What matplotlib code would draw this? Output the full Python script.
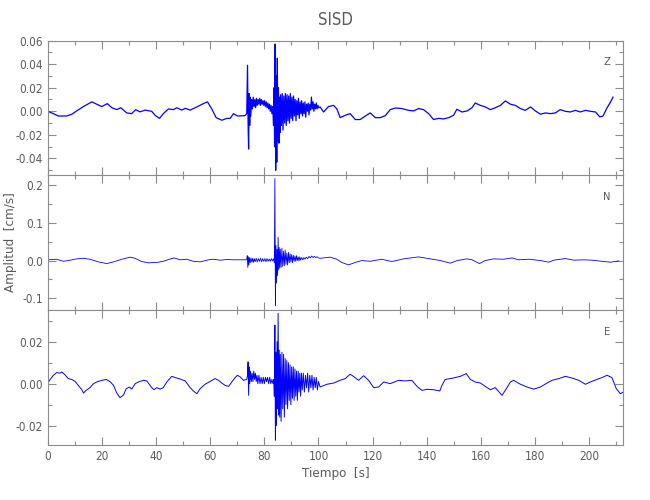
import numpy as np
import matplotlib
matplotlib.use("Agg")
import matplotlib.pyplot as plt
from matplotlib.ticker import MultipleLocator, FormatStrFormatter

plt.rcParams['font.family'] = ['DejaVu Sans']
plt.rcParams['font.stretch'] = 'condensed'
plt.rcParams['axes.unicode_minus'] = True

# ---------------- datos (tiempo [s], amplitud [cm/s]) ----------------
# componente Z
z_t_pre = [0, 2.1, 3.9, 7.0, 8.9, 10.7, 13.2, 16.3, 18.1, 20, 22, 23.7, 25.5, 27, 29.2, 31,
           32.5, 34.1, 36, 38.4, 39.7, 41.3, 42.7, 44.6, 46.4, 47.7, 49.5, 50.8, 52.6, 55.1,
           57.5, 59, 60.6, 62.2, 64.3, 66.2, 67.4, 68.6, 70.1, 72.9]
z_pre = [0.000, -0.002, -0.004, -0.004, -0.0025, 0.0003, 0.004, 0.008, 0.006, 0.004, 0.0065,
         0.003, 0.0014, 0.003, -0.0014, -0.002, 0.0014, -0.0005, 0.001, 0.000, -0.0035, -0.006,
         -0.002, 0.002, 0.0014, 0.003, 0.001, 0.0025, 0.001, 0.0037, 0.0065, 0.008, 0.002,
         -0.0054, -0.0076, -0.006, -0.006, -0.002, -0.004, -0.0037]
z_t_burst = [73.5, 73.8, 74.0, 74.2, 74.4, 74.6, 74.8, 75.0, 75.3, 75.6, 75.9, 76.2, 76.5, 76.8,
             77.1, 77.4, 77.7, 78.0, 78.3, 78.6, 78.9, 79.2, 79.5, 79.8, 80.1, 80.4, 80.7, 81.0,
             81.3, 81.6, 81.9, 82.2, 82.5, 82.8, 83.1, 83.4, 83.6, 83.8, 84.0, 84.2, 84.4, 84.6,
             84.8, 85.0, 85.2, 85.4, 85.6, 85.8, 86.0, 86.3, 86.6, 86.9, 87.2, 87.5, 87.8, 88.1,
             88.4, 88.7, 89.0, 89.3, 89.6, 89.9, 90.2, 90.5, 90.8, 91.1, 91.4, 91.7, 92.0, 92.3,
             92.6, 92.9, 93.2, 93.5, 93.8, 94.1, 94.4, 94.7, 95.0, 95.3, 95.6, 95.9, 96.2, 96.5,
             96.8, 97.1, 97.4, 97.7, 98.0, 98.3, 98.6, 98.9, 99.2, 99.5, 99.8, 100.1]
z_burst = [-0.002, 0.039, -0.010, -0.032, 0.015, -0.012, 0.012, -0.004, 0.010, 0.002, 0.012,
           0.004, 0.010, 0.003, 0.011, 0.005, 0.010, 0.006, 0.011, 0.005, 0.010, 0.006, 0.009,
           0.005, 0.009, 0.004, 0.008, 0.003, 0.007, 0.002, 0.006, 0.000, 0.005, -0.002, 0.004,
           -0.012, 0.020, -0.030, 0.057, -0.050, 0.030, -0.043, 0.045, -0.025, 0.020, -0.027,
           0.012, -0.018, 0.014, -0.012, 0.015, -0.016, 0.013, -0.010, 0.015, -0.012, 0.014,
           -0.008, 0.013, -0.010, 0.015, -0.006, 0.012, -0.008, 0.013, -0.004, 0.010, -0.008,
           0.009, -0.003, 0.011, -0.006, 0.008, -0.002, 0.009, -0.004, 0.007, -0.002, 0.008,
           -0.005, 0.006, 0.000, 0.007, -0.003, 0.006, 0.001, 0.012, 0.002, 0.008, 0.000, 0.006,
           0.002, 0.007, 0.002, 0.005, 0.003]
z_t_post = [100.6, 101.9, 103.7, 105.6, 106.8, 108, 109.9, 111.7, 113.6, 115.4, 117.3, 119.1,
            121, 122.8, 124.7, 126.5, 128.4, 130.8, 133.3, 135.1, 137, 138.8, 140.7, 142.5,
            144.4, 146.2, 148.1, 149.9, 151.1, 153, 154.9, 156.7, 157.9, 159.8, 161.6, 163.5,
            165.3, 167.2, 169, 170.9, 172.7, 174.6, 176.4, 178.3, 180.1, 182, 183.8, 185.7,
            187.5, 189.3, 191.2, 193, 194.9, 196.7, 198.6, 200.4, 202.3, 203.9, 205.1, 206.6,
            207.9, 208.8]
z_post = [0.0037, -0.0006, 0.004, 0.005, 0.002, -0.0054, -0.0034, -0.002, -0.007, -0.007,
          -0.004, -0.0014, -0.0054, -0.0054, -0.0037, 0.0014, 0.0028, 0.0023, 0.0008, 0.0003,
          0.0023, 0.0014, -0.002, -0.007, -0.006, -0.0065, -0.0054, -0.0034, 0.0017, -0.0006,
          0.0003, 0.003, 0.007, 0.005, 0.0037, 0.0014, 0.003, 0.005, 0.0088, 0.006, 0.005,
          0.0023, 0.0008, 0.0037, 0.0003, -0.0025, -0.0014, -0.002, -0.0014, 0.0014, 0.000,
          -0.0006, 0.0008, -0.0006, 0.0008, 0.000, -0.0006, -0.0048, -0.004, 0.003, 0.008, 0.012]

# componente N
n_t_pre = [0, 3.3, 5.8, 7.6, 10.7, 13.2, 15.6, 18.7, 21.8, 24.3, 27.4, 30.4, 32.3, 34.7, 37.2,
           40.3, 42.7, 44.6, 46.7, 48.9, 51.4, 53.8, 56.3, 59.4, 61.2, 63.7, 66.2, 68.6, 71.1]
n_pre = [0.002, 0.0035, -0.002, 0.000, 0.0045, 0.006, 0.0035, -0.0035, -0.008, -0.0035, 0.0035,
         0.009, 0.006, -0.0027, -0.006, -0.005, -0.002, 0.0027, 0.007, 0.002, 0.0035, -0.002,
         -0.0035, 0.002, 0.0035, 0.001, 0.0027, 0.002, 0.002]
n_t_burst = [73.5, 73.7, 73.9, 74.1, 74.3, 74.5, 74.8, 75.1, 75.4, 75.7, 76.0, 76.3, 76.6, 77.0,
             77.4, 77.8, 78.2, 78.6, 79.0, 79.4, 79.8, 80.2, 80.6, 81.0, 81.4, 81.8, 82.2, 82.6,
             83.0, 83.4, 83.7, 83.9, 84.1, 84.3, 84.5, 84.7, 84.9, 85.1, 85.3, 85.5, 85.7, 85.9,
             86.2, 86.5, 86.8, 87.1, 87.4, 87.7, 88.0, 88.3, 88.6, 88.9, 89.2, 89.5, 89.8, 90.1,
             90.4, 90.7, 91.0, 91.3, 91.6, 91.9, 92.2, 92.5, 92.8, 93.1, 93.4, 93.8, 94.2, 94.6,
             95.0, 95.5, 96.0, 96.5, 97.0, 97.5, 98.0, 98.5, 99.0, 99.5, 100.0]
n_burst = [0.002, 0.013, -0.018, 0.010, -0.012, 0.008, -0.006, 0.007, -0.004, 0.006, -0.005,
           0.005, -0.003, 0.006, -0.004, 0.005, -0.002, 0.006, -0.003, 0.005, -0.002, 0.005,
           -0.003, 0.005, -0.002, 0.004, -0.002, 0.005, -0.001, 0.005, -0.006, 0.218, -0.120,
           0.040, -0.060, 0.030, -0.040, 0.062, -0.025, 0.035, -0.020, 0.030, -0.018, 0.033,
           -0.016, 0.025, -0.014, 0.028, -0.010, 0.020, -0.012, 0.022, -0.006, 0.018, -0.004,
           0.016, -0.006, 0.014, -0.002, 0.012, -0.002, 0.013, 0.000, 0.010, -0.001, 0.010,
           0.001, 0.008, 0.002, 0.008, 0.004, 0.009, 0.005, 0.011, 0.007, 0.012, 0.008, 0.011,
           0.008, 0.010, 0.007]
n_t_post = [100.6, 104.3, 106.8, 108.6, 111.1, 113.6, 116, 119.1, 123.4, 127.1, 131.4, 137,
            141.3, 145, 148.7, 151.2, 154.9, 156.7, 159.5, 161.6, 164.7, 168.4, 171.5, 173.9,
            177.7, 182, 185, 186.9, 191.2, 194.3, 197.9, 201, 204.7, 207.8, 210.9]
n_post = [0.006, 0.009, 0.0035, -0.005, -0.0115, -0.005, 0.000, -0.002, 0.0035, -0.0027, 0.0045,
          0.0097, 0.0045, 0.000, -0.007, 0.000, 0.0045, 0.002, -0.008, 0.000, 0.0045, 0.0035,
          0.007, 0.002, 0.0035, 0.000, -0.0044, 0.001, 0.0053, 0.001, 0.002, 0.001, -0.002,
          -0.0044, -0.001]

# componente E
e_t_pre = [0, 0.9, 2.1, 3.3, 4.6, 5.2, 6.4, 7.6, 8.9, 10.1, 11.3, 12.6, 13.2, 14.2, 15.6, 16.9,
           18.1, 20, 21.6, 23, 24.3, 25.5, 26.7, 28, 29, 30.2, 31, 32.3, 33.5, 35.4, 36.6, 38.4,
           39.3, 40.3, 41.5, 42.7, 44, 45.8, 47.1, 48.9, 50.8, 52.6, 53.8, 55.1, 56.3, 58.1, 60,
           61.8, 63.1, 64.3, 65.5, 66.8, 68, 69.2, 70.1, 71.1, 72.3]
e_pre = [0.000, 0.002, 0.004, 0.0053, 0.005, 0.0056, 0.0042, 0.0024, 0.002, 0.0011, -0.0008,
         -0.0029, -0.0045, -0.0032, -0.0019, 0.000, 0.0008, 0.0016, 0.002, 0.001, -0.0008,
         -0.0045, -0.0067, -0.0054, -0.0024, -0.0016, -0.0026, 0.000, 0.0008, 0.0016, 0.0013,
         -0.0019, -0.0029, -0.0019, -0.0026, -0.0019, 0.0008, 0.0035, 0.0029, 0.0022, 0.0013,
         -0.0019, -0.0035, -0.0048, -0.0024, -0.0003, 0.0011, 0.0024, 0.0016, 0.0003, -0.0008,
         -0.0013, 0.0008, 0.0029, 0.004, 0.0032, 0.0016]
e_t_burst = [73.5, 73.8, 74.0, 74.2, 74.4, 74.6, 74.9, 75.2, 75.5, 75.8, 76.1, 76.4, 76.7, 77.0,
             77.3, 77.6, 78.0, 78.4, 78.8, 79.2, 79.6, 80.0, 80.4, 80.8, 81.2, 81.6, 82.0, 82.4,
             82.8, 83.2, 83.5, 83.7, 83.9, 84.1, 84.3, 84.5, 84.7, 84.9, 85.1, 85.3, 85.5, 85.7,
             85.9, 86.2, 86.5, 86.8, 87.1, 87.4, 87.7, 88.0, 88.3, 88.6, 88.9, 89.2, 89.5, 89.8,
             90.1, 90.4, 90.7, 91.0, 91.3, 91.6, 91.9, 92.2, 92.5, 92.8, 93.1, 93.4, 93.7, 94.0,
             94.4, 94.8, 95.2, 95.6, 96.0, 96.4, 96.8, 97.2, 97.6, 98.0, 98.4, 98.8, 99.2, 99.6,
             100.0]
e_burst = [0.002, 0.004, 0.0104, -0.0056, 0.008, 0.000, 0.006, 0.001, 0.005, 0.001, 0.006,
           0.002, 0.005, 0.001, 0.004, 0.000, 0.004, 0.000, 0.003, 0.000, 0.003, 0.000, 0.003,
           0.001, 0.003, 0.000, 0.003, 0.000, 0.002, 0.000, 0.002, -0.006, 0.028, -0.027, 0.015,
           -0.020, 0.020, -0.012, 0.0336, -0.015, 0.016, -0.016, 0.014, -0.018, 0.015, -0.012,
           0.014, -0.016, 0.012, -0.010, 0.011, -0.012, 0.010, -0.008, 0.009, -0.010, 0.008,
           -0.007, 0.008, -0.008, 0.007, -0.006, 0.006, -0.008, 0.006, -0.004, 0.005, -0.006,
           0.005, -0.003, 0.005, -0.004, 0.004, -0.002, 0.005, -0.004, 0.004, -0.002, 0.004,
           -0.003, 0.003, -0.002, 0.003, -0.003, 0.001]
e_t_post = [100.6, 103.1, 105.6, 108, 109.9, 111.7, 112.9, 114.8, 116.7, 118.5, 120.4, 122.2,
            124.1, 126.5, 129.6, 132, 134.5, 136.4, 138.2, 140.1, 142.5, 144.8, 145.6, 146.8,
            148.7, 150.5, 152.4, 154.6, 156.1, 157.9, 159.8, 161.6, 163.5, 165.3, 167.8, 169,
            170.9, 172.1, 174.6, 177, 179.5, 182, 184.4, 186.3, 188.7, 191.2, 193.6, 196.1,
            198.6, 200.4, 202.9, 204.7, 206.6, 208.4, 210, 211.5, 212.6]
e_post = [-0.0016, -0.0003, 0.0003, 0.0016, 0.0024, 0.0045, 0.0035, 0.0016, 0.0038, 0.0016,
          -0.0019, -0.0016, 0.0008, 0.000, 0.0016, 0.0013, 0.0016, -0.0013, -0.0032, -0.0027,
          -0.0029, -0.0035, -0.0008, 0.002, 0.0024, 0.0029, 0.0035, 0.0048, 0.002, 0.0008,
          0.0003, -0.0013, -0.0029, -0.0019, -0.0056, -0.0032, 0.0008, 0.0016, -0.0003, -0.0016,
          -0.0026, -0.0016, 0.0003, 0.0016, 0.0024, 0.0035, 0.0027, 0.0016, -0.0003, 0.0008,
          0.002, 0.0029, 0.004, 0.0029, -0.0024, -0.0048, -0.004]

componentes = ['Z', 'N', 'E']
series = [
    (z_t_pre + z_t_burst + z_t_post, z_pre + z_burst + z_post),
    (n_t_pre + n_t_burst + n_t_post, n_pre + n_burst + n_post),
    (e_t_pre + e_t_burst + e_t_post, e_pre + e_burst + e_post),
]
ylims = [(-0.0543, 0.06), (-0.132, 0.2267), (-0.0293, 0.0351)]
ymajor = [0.02, 0.1, 0.02]
yminor = [0.01, 0.05, 0.01]
yfmt = ['%.2f', '%.1f', '%.2f']
grosor = [0.9, 0.6, 0.7]

gris = '#8c8c8c'
texto = '#5a5a5a'

fig, axs = plt.subplots(3, 1, sharex=True, figsize=(6.5, 5), dpi=100)
fig.subplots_adjust(left=0.0734, right=0.959, bottom=0.11, top=0.919, hspace=0)

for k, ax in enumerate(axs):
    t, v = series[k]
    ax.plot(t, v, color='#0000ff', lw=grosor[k])
    ax.set_xlim(0, 212.6)
    ax.set_ylim(*ylims[k])
    ax.yaxis.set_major_locator(MultipleLocator(ymajor[k]))
    ax.yaxis.set_minor_locator(MultipleLocator(yminor[k]))
    ax.yaxis.set_major_formatter(FormatStrFormatter(yfmt[k]))
    if k < 2:
        ax.xaxis.set_major_locator(MultipleLocator(10))
    else:
        ax.xaxis.set_major_locator(MultipleLocator(20))
        ax.xaxis.set_minor_locator(MultipleLocator(10))
    ax.tick_params(which='both', direction='in', top=True, right=True,
                   color=gris, labelcolor=texto, labelsize=8.5, width=0.8)
    ax.tick_params(which='major', length=6)
    ax.tick_params(which='minor', length=3)
    ax.tick_params(axis='x', which='both', labelbottom=(k == 2))
    for s in ax.spines.values():
        s.set_color(gris)
        s.set_linewidth(0.8)
    ax.text(0.972, 0.84, componentes[k], transform=ax.transAxes, ha='center', va='center',
            color=texto, fontsize=8)

axs[0].set_title('SISD', color=texto, fontsize=12, pad=11)
axs[2].set_xlabel('Tiempo  [s]', color=texto, fontsize=9.5, labelpad=3)
fig.text(0.016, 0.515, 'Amplitud  [cm/s]', rotation=90, ha='center', va='center',
         color=texto, fontsize=9.5)

fig.savefig('out.png', dpi=100)
